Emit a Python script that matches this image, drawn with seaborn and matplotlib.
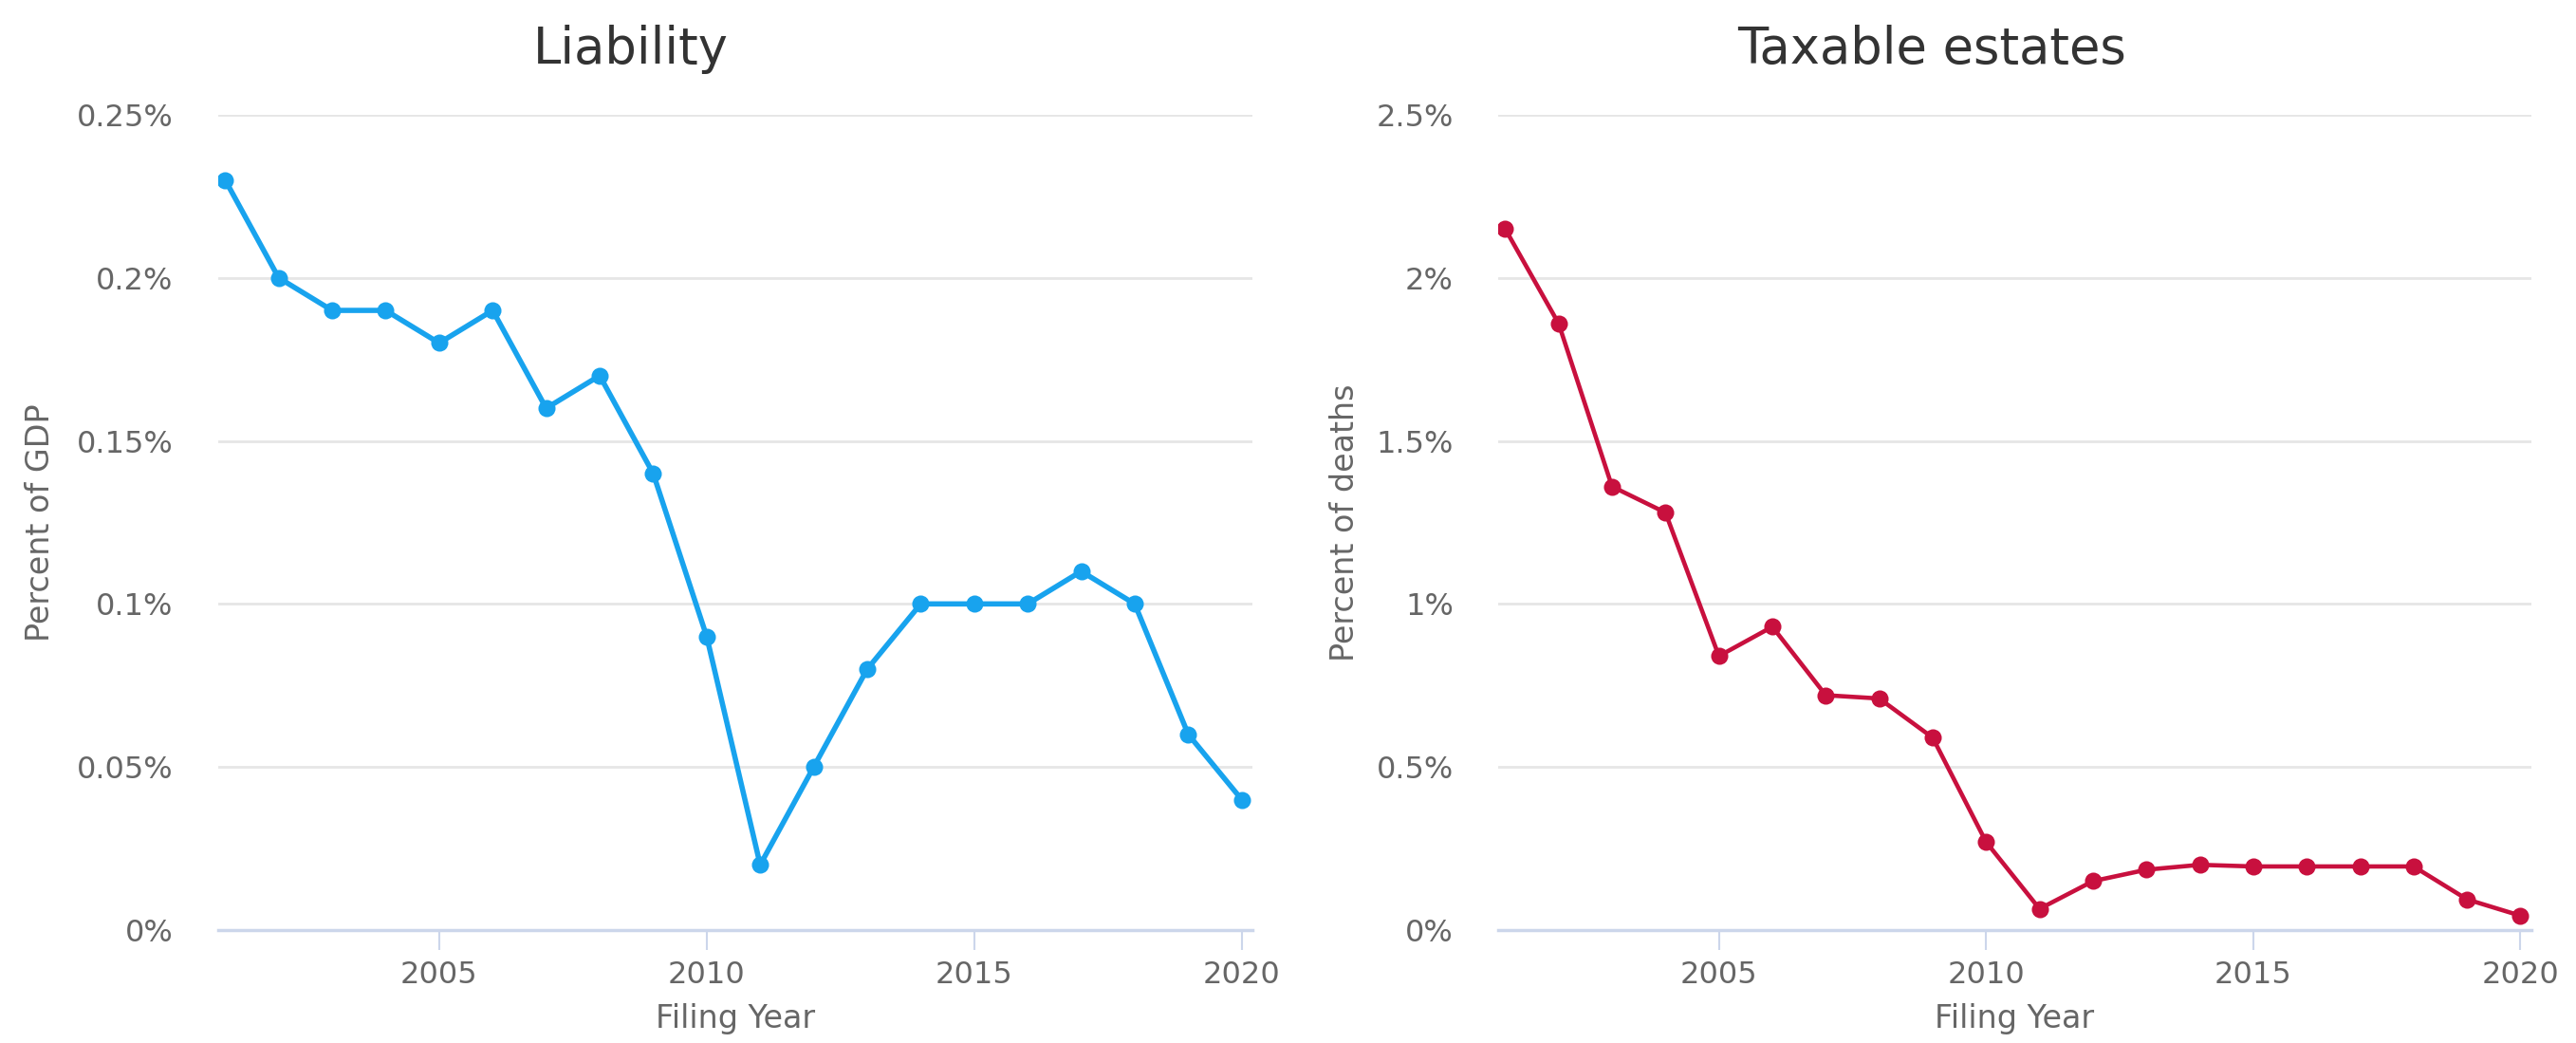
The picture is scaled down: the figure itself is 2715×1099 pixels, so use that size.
import pandas as pd
import seaborn as sns
import matplotlib.pyplot as plt
from matplotlib.ticker import FuncFormatter

# Data
years = list(range(2001, 2021))
liability = [0.23, 0.20, 0.19, 0.19, 0.18, 0.19, 0.16, 0.17, 0.14, 0.09,
             0.02, 0.05, 0.08, 0.10, 0.10, 0.10, 0.11, 0.10, 0.06, 0.04]
taxable = [2.15, 1.86, 1.36, 1.28, 0.84, 0.93, 0.72, 0.71, 0.59, 0.27,
           0.065, 0.15, 0.185, 0.20, 0.195, 0.195, 0.195, 0.195, 0.094, 0.044]

liab_ticks = [0, 0.05, 0.1, 0.15, 0.2, 0.25]
tax_ticks = [0, 0.5, 1, 1.5, 2, 2.5]
x_ticks = [2005, 2010, 2015, 2020]

df = pd.DataFrame({'year': years, 'liability': liability, 'taxable': taxable})

sns.set_style('white')
plt.rcParams['font.family'] = ['DejaVu Sans']

fig = plt.figure(figsize=(27.15, 10.99), dpi=100)
ax1 = fig.add_axes([0.0847, 0.1083, 0.4015, 0.7817])
ax2 = fig.add_axes([0.5816, 0.1083, 0.4010, 0.7817])

# (axes, column, colour, line width, title, title centre, y label, y ticks)
panels = [
    (ax1, 'liability', '#18a3ee', 4.0, 'Liability', 0.245, 'Percent of GDP', liab_ticks),
    (ax2, 'taxable', '#c8103e', 3.3, 'Taxable estates', 0.750, 'Percent of deaths', tax_ticks),
]

pct = FuncFormatter(lambda v, pos: '{:g}%'.format(round(v, 4)))

for ax, col, color, lw, title, tx, ylabel, yticks in panels:
    sns.lineplot(data=df, x='year', y=col, ax=ax, color=color,
                 linewidth=lw, marker='o', markersize=13,
                 markeredgewidth=0, zorder=3)
    ax.set_xlim(2000.87, 2020.2)
    ax.set_ylim(yticks[0], yticks[-1])
    ax.set_yticks(yticks)
    ax.set_xticks(x_ticks)
    ax.yaxis.set_major_formatter(pct)
    ax.grid(axis='y', color='#e6e6e6', linewidth=2)
    ax.grid(axis='x', visible=False)
    for side in ['top', 'right', 'left']:
        ax.spines[side].set_visible(False)
    ax.spines['bottom'].set_color('#ccd6eb')
    ax.spines['bottom'].set_linewidth(2.5)
    ax.tick_params(axis='x', length=15, width=1.5, color='#ccd6eb',
                   labelsize=23, labelcolor='#666666', pad=8, bottom=True)
    ax.tick_params(axis='y', length=0, labelsize=23,
                   labelcolor='#666666', pad=34)
    fig.text(tx, 0.939, title, fontsize=38, color='#333333',
             ha='center', va='baseline')
    ax.set_xlabel('Filing Year', fontsize=24, color='#666666', labelpad=10)
    ax.set_ylabel(ylabel, fontsize=24, color='#666666', labelpad=16 if col == 'liability' else 12)

fig.savefig('out.png', dpi=100, facecolor='white')
